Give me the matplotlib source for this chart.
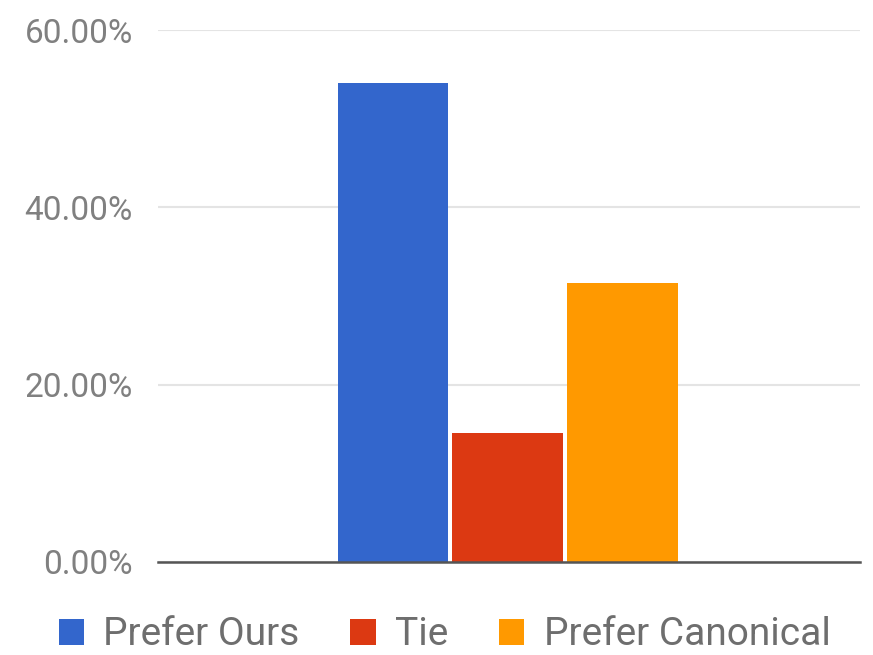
import matplotlib.pyplot as plt
from matplotlib.ticker import FuncFormatter

series = ['Prefer Ours', 'Tie', 'Prefer Canonical']
values = [54.0, 14.5, 31.5]
colors = ['#3366CC', '#DC3912', '#FF9900']
yticks = [0, 20, 40, 60]

plt.rcParams['font.family'] = ['Roboto', 'DejaVu Sans']

fig = plt.figure(figsize=(8.73, 6.55), dpi=100)
ax = fig.add_axes([0.181, 0.142, 0.804, 0.812])

bars = []
for i, (name, v, c) in enumerate(zip(series, values, colors)):
    b = ax.bar(i - 1, v, width=0.965, color=c, label=name, zorder=3)
    bars.append(b)

ax.set_xlim(-3.05, 3.07)
ax.set_ylim(0, 60)
ax.set_yticks(yticks)
ax.yaxis.set_major_formatter(FuncFormatter(lambda v, p: f'{v:.2f}%'))
ax.set_xticks([])
ax.tick_params(axis='y', length=0, pad=18, labelsize=24, labelcolor='#808080')
ax.grid(axis='y', color='#e4e4e4', linewidth=1.5, zorder=0)
for s in ['top', 'right', 'left']:
    ax.spines[s].set_visible(False)
ax.spines['bottom'].set_color('#555555')
ax.spines['bottom'].set_linewidth(1.8)
ax.spines['bottom'].set_zorder(4)

fig.legend(handles=bars, labels=series, loc='center left', bbox_to_anchor=(0.045, 0.031),
           ncol=3, frameon=False, fontsize=28, labelcolor='#6e6e6e', borderpad=0,
           handlelength=0.65, handleheight=0.65, handletextpad=0.5, columnspacing=1.3)

fig.savefig('out.png', dpi=100)
